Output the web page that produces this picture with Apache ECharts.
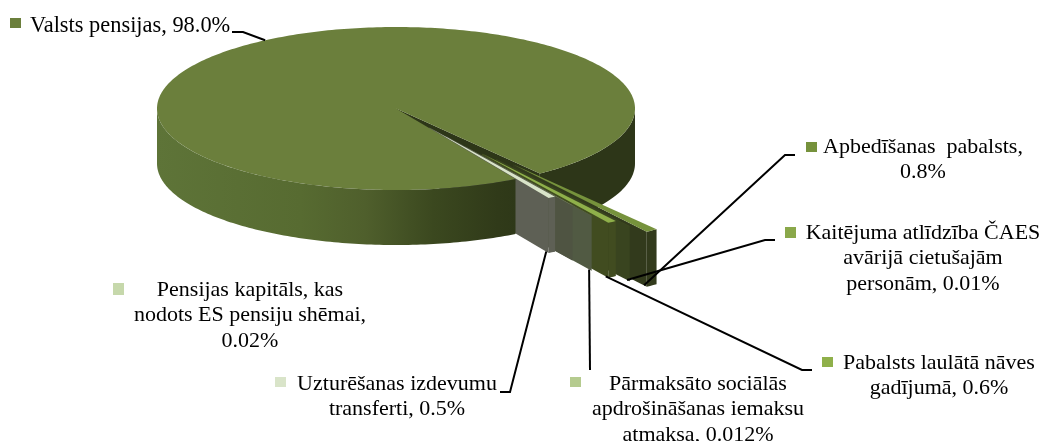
<!DOCTYPE html>
<html>
<head>
<meta charset="utf-8">
<style>html,body{margin:0;padding:0;background:#fff}#c{width:1043px;height:441px}</style>
<script src="https://cdn.jsdelivr.net/npm/echarts@6/dist/echarts.min.js"></script>
</head>
<body>
<div id="c"></div>
<script>
// ---- data ----
const categories = ['Valsts pensijas', 'Apbedīšanas pabalsts', 'Kaitējuma atlīdzība ČAES avārijā cietušajām personām', 'Pabalsts laulātā nāves gadījumā', 'Pārmaksāto sociālās apdrošināšanas iemaksu atmaksa', 'Pensijas kapitāls, kas nodots ES pensiju shēmai', 'Uzturēšanas izdevumu transferti'];
const shares = [98.0, 0.8, 0.01, 0.6, 0.012, 0.02, 0.5];
const labelLines = [
  ['Valsts pensijas, 98.0%'],
  ['Apbedīšanas  pabalsts,', '0.8%'],
  ['Kaitējuma atlīdzība ČAES', 'avārijā cietušajām', 'personām, 0.01%'],
  ['Pabalsts laulātā nāves', 'gadījumā, 0.6%'],
  ['Pārmaksāto sociālās', 'apdrošināšanas iemaksu', 'atmaksa, 0.012%'],
  ['Pensijas kapitāls, kas', 'nodots ES pensiju shēmai,', '0.02%'],
  ['Uzturēšanas izdevumu', 'transferti, 0.5%']
];

// ---- styling and layout (not data) ----
const topColors = ['#6b7f3c', '#76923c', '#8aa84a', '#8fb04a', '#b5cb8f', '#c6d8ab', '#d9e4c9'];
const faceColors = ['#2d3618', '#323a1c', '#39441f', '#414c20', '#515a43', '#4f5442', '#5e6055'];
const explode = [0, 0.84, 0.745, 0.66, 0.55, 0.40, 0.27];
const pie = {cx: 396, cy: 108.5, rx: 239, ry: 81.5, depth: 55, start: 60};
const labelBoxes = [
  {x: 30, y: 26, align: 'left', size: 22.4, key: [10, 18, 11, 10]},
  {x: 923, y: 147, key: [806, 142, 11, 10]},
  {x: 923, y: 233, key: [785, 227, 11, 11]},
  {x: 939, y: 363, key: [822, 357, 11, 10]},
  {x: 698, y: 384, key: [570, 377, 11, 10]},
  {x: 250, y: 290, key: [113, 283, 11, 12]},
  {x: 397, y: 384, key: [275, 377, 11, 10]}
];
const leaderEnds = [
  [[243, 32], [232, 32]],
  [[785, 155], [795, 155]],
  [[765, 240], [775, 240]],
  [[802, 370], [812, 370]],
  [[590, 370]],
  null,
  [[510, 392], [500, 392]]
];
const lineHeight = 25.5;
const fontFamily = '"Liberation Serif", serif';
const fontSize = 22;

const total = shares.reduce((a, b) => a + b, 0);
const sweep = v => v / total * 360;
const mainEnd = pie.start + sweep(shares[0]);

// angular range of a slice, running clockwise from the end of the main slice
function range(idx) {
  if (idx === 0) return [pie.start, mainEnd];
  let a0 = mainEnd;
  for (let i = 1; i < idx; i++) a0 += sweep(shares[i]);
  return [a0, a0 + sweep(shares[idx])];
}
function project(idx, a, r, drop) {
  const [a0, a1] = range(idx);
  const b = (a0 + a1) / 2 * Math.PI / 180;
  const t = a * Math.PI / 180;
  const e = explode[idx];
  return [
    pie.cx + pie.rx * (e * Math.cos(b) + r * Math.cos(t)),
    pie.cy + pie.ry * (e * Math.sin(b) + r * Math.sin(t)) + drop
  ];
}
function arc(idx, a0, a1, drop) {
  const n = Math.max(2, Math.ceil(Math.abs(a1 - a0)));
  const pts = [];
  for (let i = 0; i <= n; i++) pts.push(project(idx, a0 + (a1 - a0) * i / n, 1, drop));
  return pts;
}
function poly(points, fill, z2) {
  return {type: 'polygon', z2: z2, shape: {points: points}, style: {fill: fill}};
}
function rimBand(idx, a0, a1, fill, z2) {
  return poly(arc(idx, a0, a1, 0).concat(arc(idx, a1, a0, pie.depth)), fill, z2);
}
const G = echarts.graphic.LinearGradient;

function renderItem(params, api) {
  const idx = params.dataIndex;
  api.value(0);
  const [a0, a1] = range(idx);
  const tip = project(idx, 0, 0, 0);
  const tipLow = project(idx, 0, 0, pie.depth);
  const children = [];
  if (idx === 0) {
    children.push(poly([tip, project(0, a1, 1, 0), project(0, a1, 1, pie.depth), tipLow], faceColors[0], 2));
    children.push(rimBand(0, 360, a1, faceColors[0], 1));
    children.push(poly([tip].concat(arc(0, a0, a1, 0)), topColors[0], 50));
    children.push(rimBand(0, a0, 180, new G(157, 0, 516, 0, [
      {offset: 0, color: '#5e7438'}, {offset: 0.4, color: '#576b31'}, {offset: 0.58, color: '#4f5f2c'},
      {offset: 0.77, color: '#3b481f'}, {offset: 0.95, color: '#303a19'}, {offset: 1, color: '#2e3818'}
    ], true), 51));
  } else {
    const z = 10 + idx * 3;
    children.push(rimBand(idx, a0, a1, faceColors[idx], z));
    children.push(poly([tip, project(idx, a1, 1, 0), project(idx, a1, 1, pie.depth), tipLow], faceColors[idx], z + 1));
    children.push(poly([tip].concat(arc(idx, a0, a1, 0)), topColors[idx], z + 2));
  }
  return {type: 'group', children: children};
}

// leader lines start from the slice they annotate
function leaderStart(i) {
  if (i === 0) return project(0, 236.8, 1, 0);
  return project(i, range(i)[1], 0.98, pie.depth);
}

const graphics = [];
labelBoxes.forEach((b, i) => {
  graphics.push({type: 'rect', silent: true, z: 100, shape: {x: b.key[0], y: b.key[1], width: b.key[2], height: b.key[3]}, style: {fill: topColors[i]}});
  labelLines[i].forEach((line, k) => {
    graphics.push({type: 'text', silent: true, z: 100, x: b.x, y: b.y + k * lineHeight,
      style: {text: line, fill: '#000', font: (b.size || fontSize) + 'px ' + fontFamily, textAlign: b.align || 'center', textVerticalAlign: 'middle'}});
  });
  if (leaderEnds[i]) {
    graphics.push({type: 'polyline', silent: true, z: 90, shape: {points: [leaderStart(i)].concat(leaderEnds[i])}, style: {stroke: '#000', lineWidth: 2, fill: null}});
  }
});

const chart = echarts.init(document.getElementById('c'), null, {renderer: 'canvas'});
chart.setOption({
  animation: false,
  backgroundColor: '#fff',
  graphic: {elements: graphics},
  series: [{
    type: 'custom',
    name: 'Izdevumi',
    coordinateSystem: 'none',
    silent: true,
    renderItem: renderItem,
    data: shares.map((v, i) => ({name: categories[i], value: [v]}))
  }]
});
</script>
</body>
</html>
